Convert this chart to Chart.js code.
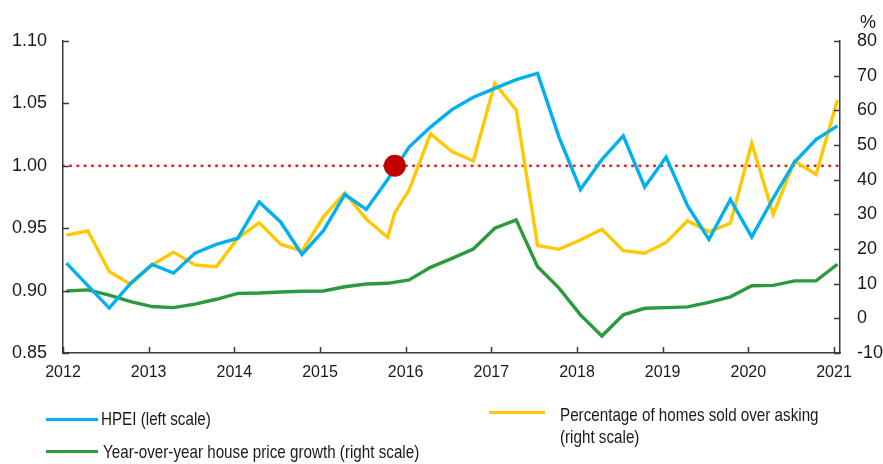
<!DOCTYPE html>
<html>
<head>
<meta charset="utf-8">
<script src="https://cdn.jsdelivr.net/npm/chart.js@4"></script>
<style>
  body { margin: 0; background: #fff; font-family: "Liberation Sans", Arial, sans-serif; }
  #wrap { position: relative; width: 883px; height: 464px; }
  #myChart { position: absolute; left: 0; top: 0; }
  .lg-line { position: absolute; height: 3px; }
  .lg-text { position: absolute; font-size: 19px; line-height: 22px; color: #1a1a1a;
             transform: scaleX(0.8); transform-origin: left top; white-space: nowrap; }
  #pct { position: absolute; left: 860px; top: 12px; font-size: 18px; color: #1a1a1a; }
</style>
</head>
<body>
<div id="wrap">
  <canvas id="myChart" width="883" height="464"></canvas>
  <div id="pct">%</div>
  <div class="lg-line" style="left:46px;top:418px;width:52px;background:#00b0f0"></div>
  <div class="lg-text" style="left:101px;top:408px">HPEI (left scale)</div>
  <div class="lg-line" style="left:46px;top:450px;width:52px;background:#2a9a3c"></div>
  <div class="lg-text" style="left:103px;top:441px">Year-over-year house price growth (right scale)</div>
  <div class="lg-line" style="left:489px;top:411px;width:56px;background:#ffc800"></div>
  <div class="lg-text" style="left:560px;top:404px">Percentage of homes sold over asking<br>(right scale)</div>
</div>
<script>
 const quarters = [
   '2012Q1','2012Q2','2012Q3','2012Q4','2013Q1','2013Q2','2013Q3','2013Q4',
   '2014Q1','2014Q2','2014Q3','2014Q4','2015Q1','2015Q2','2015Q3','2015Q4',
   '2016Q1','2016Q2','2016Q3','2016Q4','2017Q1','2017Q2','2017Q3','2017Q4',
   '2018Q1','2018Q2','2018Q3','2018Q4','2019Q1','2019Q2','2019Q3','2019Q4',
   '2020Q1','2020Q2','2020Q3','2020Q4','2021Q1'
 ]

 const hpei = [0.922, 0.904, 0.886, 0.906, 0.921, 0.914, 0.930, 0.937,
   0.942, 0.971, 0.955, 0.929, 0.948, 0.977, 0.965, 0.989,
   1.015, 1.031, 1.045, 1.055, 1.062, 1.069, 1.074, 1.023,
   0.981, 1.005, 1.024, 0.983, 1.007, 0.968, 0.941, 0.973,
   0.943, 0.974, 1.003, 1.021, 1.032]

 const overAsking = [24.0, 25.2, 13.5, 9.8, 15.4, 19.1, 15.4, 14.9,
   23.1, 27.6, 21.4, 19.4, 29.3, 36.2, 28.6, 23.4,
   37.0, 53.2, 48.1, 45.4, 67.8, 60.1, 21.0, 19.9,
   22.6, 25.7, 19.5, 18.8, 21.9, 28.1, 25.0, 27.4,
   50.5, 30.0, 45.4, 41.5, 63.0]

 // one extra monthly reading in the over-asking series
 const overAskingExtra = { month: '2015-11', value: 30.5 }

 const priceGrowth = [7.9, 8.2, 6.7, 4.8, 3.4, 3.1, 4.1, 5.5,
   7.2, 7.3, 7.6, 7.8, 7.9, 9.1, 9.9, 10.1,
   11.1, 14.7, 17.3, 20.0, 26.0, 28.4, 14.9, 8.7,
   1.0, -5.1, 1.0, 2.9, 3.1, 3.3, 4.6, 6.2,
   9.4, 9.5, 10.8, 10.8, 15.6]

 const marker = { month: '2015-11', value: 1.00 }

 const yearTicks = [2012, 2013, 2014, 2015, 2016, 2017, 2018, 2019, 2020, 2021]
 const leftTicks = [0.85, 0.90, 0.95, 1.00, 1.05, 1.10]
 const rightTicks = [-10, 0, 10, 20, 30, 40, 50, 60, 70, 80]

 const axisColor = '#3a3a3a'

 // quarter / month label -> decimal year (points sit mid-month)
 const fromQuarter = q => +q.slice(0, 4) + (q[5] - 1) * 0.25 + 0.04
 const fromMonth = m => +m.slice(0, 4) + (m.slice(5) - 1) / 12 + 0.04

 const toPoints = vals => vals.map((v, i) => ({ x: fromQuarter(quarters[i]), y: v }))

 const yellowPts = toPoints(overAsking)
 yellowPts.push({ x: fromMonth(overAskingExtra.month), y: overAskingExtra.value })
 yellowPts.sort((a, b) => a.x - b.x)

 const inwardTicks = {
   id: 'inwardTicks',
   afterDraw(chart) {
     const { ctx, chartArea: a, scales } = chart
     ctx.save()
     ctx.strokeStyle = axisColor
     ctx.lineWidth = 1.5
     ctx.beginPath()
     scales.y.ticks.forEach(t => {
       const p = Math.round(scales.y.getPixelForValue(t.value)) + 0.5
       ctx.moveTo(a.left, p); ctx.lineTo(a.left + 6, p)
     })
     scales.y1.ticks.forEach(t => {
       const p = Math.round(scales.y1.getPixelForValue(t.value)) + 0.5
       ctx.moveTo(a.right, p); ctx.lineTo(a.right - 6, p)
     })
     scales.x.ticks.forEach(t => {
       const p = Math.round(scales.x.getPixelForValue(t.value)) + 0.5
       ctx.moveTo(p, a.bottom); ctx.lineTo(p, a.bottom - 6)
     })
     ctx.stroke()
     ctx.restore()
   }
 }

 const ctx = document.getElementById('myChart')

 new Chart(ctx, {
   type: 'line',
   data: {
     datasets: [
       {
         label: 'marker',
         data: [{ x: fromMonth(marker.month), y: marker.value }],
         yAxisID: 'y',
         showLine: false,
         pointRadius: 11,
         pointBackgroundColor: '#c00000',
         pointBorderWidth: 0
       },
       {
         label: 'HPEI (left scale)',
         data: toPoints(hpei),
         yAxisID: 'y',
         borderColor: '#00b0f0',
         borderWidth: 3.4,
         pointRadius: 0,
         tension: 0
       },
       {
         label: 'Percentage of homes sold over asking (right scale)',
         data: yellowPts,
         yAxisID: 'y1',
         borderColor: '#ffc800',
         borderWidth: 3.4,
         pointRadius: 0,
         tension: 0
       },
       {
         label: 'Year-over-year house price growth (right scale)',
         data: toPoints(priceGrowth),
         yAxisID: 'y1',
         borderColor: '#2a9a3c',
         borderWidth: 3.4,
         pointRadius: 0,
         tension: 0
       },
       {
         label: 'par',
         data: [{ x: 2012, y: 1.0 }, { x: 2021.07, y: 1.0 }],
         yAxisID: 'y',
         borderColor: '#d42a22',
         borderWidth: 2.8,
         borderDash: [0.5, 6.8],
         borderCapStyle: 'round',
         pointRadius: 0
       }
     ]
   },
   options: {
     responsive: false,
     animation: false,
     layout: { padding: { top: 41, left: 0, right: 0, bottom: 0 } },
     plugins: { legend: { display: false }, tooltip: { enabled: false } },
     scales: {
       x: {
         type: 'linear',
         min: 2012,
         max: 2021.07,
         afterFit: s => { s.height = 111 },
         afterBuildTicks: s => { s.ticks = yearTicks.map(v => ({ value: v })) },
         grid: { display: false, drawTicks: false },
         border: { display: true, color: axisColor, width: 1.5 },
         ticks: {
           padding: 10,
           autoSkip: false,
           maxRotation: 0,
           color: '#1a1a1a',
           font: { family: 'Liberation Sans', size: 16 },
           callback: v => String(v)
         }
       },
       y: {
         position: 'left',
         min: 0.85,
         max: 1.10,
         afterFit: s => { s.width = 63 },
         afterBuildTicks: s => { s.ticks = leftTicks.map(v => ({ value: v })) },
         grid: { display: false, drawTicks: false },
         border: { display: true, color: axisColor, width: 1.5 },
         ticks: {
           padding: 16,
           color: '#1a1a1a',
           font: { family: 'Liberation Sans', size: 18 },
           callback: v => v.toFixed(2)
         }
       },
       y1: {
         position: 'right',
         min: -10,
         max: 80,
         afterFit: s => { s.width = 43 },
         afterBuildTicks: s => { s.ticks = rightTicks.map(v => ({ value: v })) },
         grid: { display: false, drawTicks: false },
         border: { display: true, color: axisColor, width: 1.5 },
         ticks: {
           padding: 17,
           color: '#1a1a1a',
           font: { family: 'Liberation Sans', size: 18 },
           callback: v => String(v)
         }
       }
     }
   },
   plugins: [inwardTicks]
 })
</script>
</body>
</html>
